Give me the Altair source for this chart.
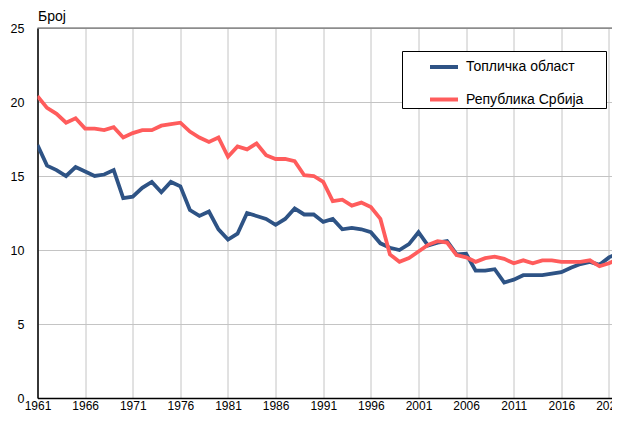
import altair as alt
import pandas as pd

years = list(range(1961, 2023))
toplica = [17.1, 15.7, 15.4, 15.0, 15.6, 15.3, 15.0, 15.1, 15.4, 13.5,
           13.6, 14.2, 14.6, 13.9, 14.6, 14.3, 12.7, 12.3, 12.6, 11.4,
           10.7, 11.1, 12.5, 12.3, 12.1, 11.7, 12.1, 12.8, 12.4, 12.4,
           11.9, 12.1, 11.4, 11.5, 11.4, 11.2, 10.45, 10.15, 10.0, 10.4,
           11.2, 10.3, 10.5, 10.6, 9.7, 9.75, 8.6, 8.6, 8.7, 7.8,
           8.0, 8.3, 8.3, 8.3, 8.4, 8.5, 8.8, 9.05, 9.2, 9.0,
           9.5, 9.8]
srbija = [20.4, 19.6, 19.2, 18.6, 18.9, 18.2, 18.2, 18.1, 18.3, 17.6,
          17.9, 18.1, 18.1, 18.4, 18.5, 18.6, 18.0, 17.6, 17.3, 17.6,
          16.3, 17.0, 16.8, 17.2, 16.4, 16.15, 16.15, 16.0, 15.05, 15.0,
          14.6, 13.3, 13.4, 13.0, 13.2, 12.9, 12.1, 9.7, 9.2, 9.45,
          9.9, 10.35, 10.6, 10.5, 9.65, 9.5, 9.2, 9.45, 9.55, 9.4,
          9.1, 9.3, 9.1, 9.3, 9.3, 9.2, 9.2, 9.2, 9.3, 8.9,
          9.1, 9.4]
series_names = ["Топличка област", "Република Србија"]
series_colors = ["#2E5385", "#FF5C5C"]
x_ticks = list(range(1961, 2022, 5))
y_ticks = [0, 5, 10, 15, 20, 25]

df = pd.DataFrame({
    "year": years * 2,
    "value": toplica + srbija,
    "series": [series_names[0]] * len(years) + [series_names[1]] * len(years),
})

FONT = "Liberation Sans, Arial, sans-serif"

lines = alt.Chart(df).mark_line(strokeWidth=3.8, clip=True).encode(
    x=alt.X("year:Q",
            scale=alt.Scale(domain=[1961, 2021.316], nice=False, zero=False),
            axis=alt.Axis(values=x_ticks, format="d", title=None,
                          grid=True, gridColor="#c4c4c4", gridWidth=1,
                          domainColor="#000000", domainWidth=1.5,
                          ticks=False, labelPadding=11,
                          labelBaseline="alphabetic", labelFontSize=12,
                          labelColor="#000000", labelFont=FONT,
                          labelFlush=False, labelOverlap=False)),
    y=alt.Y("value:Q",
            scale=alt.Scale(domain=[0, 25], nice=False),
            axis=alt.Axis(values=y_ticks, title="Број", titleAngle=0,
                          titleAlign="left", titleBaseline="alphabetic",
                          titleX=0, titleY=-7.5, titleFontSize=14,
                          titleFontWeight="normal", titleFont=FONT,
                          titleColor="#000000",
                          grid=True, gridColor="#c4c4c4", gridWidth=1,
                          domainColor="#000000", domainWidth=1.5,
                          ticks=False, labelPadding=13.5, labelFontSize=12.5,
                          labelColor="#000000", labelFont=FONT)),
    color=alt.Color("series:N",
                    scale=alt.Scale(domain=series_names, range=series_colors),
                    sort=series_names,
                    legend=alt.Legend(title="\u00a0", titleOrient="right",
                                      titlePadding=23, titleFontSize=10,
                                      orient="none",
                                      legendX=364.5, legendY=23,
                                      symbolType="stroke", symbolSize=784,
                                      symbolStrokeWidth=4, symbolOffset=26,
                                      labelOffset=6, labelFontSize=14,
                                      labelFont=FONT, labelColor="#000000",
                                      labelLimit=300,
                                      padding=0, rowPadding=8.5,
                                      strokeColor="#000000", fillColor="#ffffff")),
)

top_rule = alt.Chart(pd.DataFrame({"v": [25]})).mark_rule(
    color="#555555", strokeWidth=1).encode(y=alt.Y("v:Q"))

chart = alt.layer(top_rule, lines).properties(
    width=574.5, height=370,
    autosize=alt.AutoSizeParams(type="none"),
    padding={"left": 29.5, "top": 20, "right": 0, "bottom": 14},
).configure_view(stroke=None).configure(background="#ffffff")

chart.save("out.html", embed_options={"renderer": "svg", "actions": False})
